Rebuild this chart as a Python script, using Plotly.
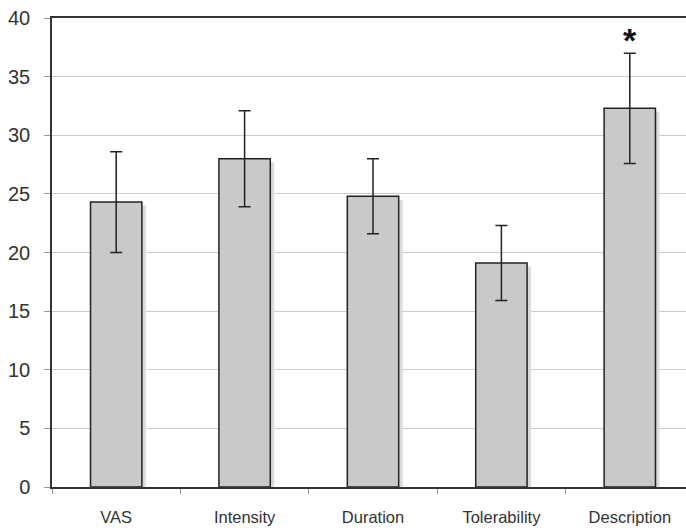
import plotly.graph_objects as go

categories = ["VAS", "Intensity", "Duration", "Tolerability", "Description"]
means = [24.3, 28.0, 24.8, 19.1, 32.3]
upper = [28.6, 32.1, 28.0, 22.3, 37.0]
lower = [20.0, 23.9, 21.6, 15.9, 27.6]
y_ticks = [0, 5, 10, 15, 20, 25, 30, 35, 40]

err_plus = [u - m for u, m in zip(upper, means)]
err_minus = [m - l for m, l in zip(means, lower)]

bar_w = 0.40
fig = go.Figure()

# soft drop shadow to the right of each bar
fig.add_trace(go.Bar(
    x=categories, y=[m - 0.3 for m in means],
    width=bar_w, offset=-bar_w / 2 + 0.03,
    marker=dict(color="#dadada", line=dict(width=0)),
    hoverinfo="skip", showlegend=False,
))

fig.add_trace(go.Bar(
    x=categories, y=means,
    width=bar_w, offset=-bar_w / 2,
    marker=dict(color="#c9c9c9", line=dict(color="#222222", width=1.5)),
    error_y=dict(type="data", symmetric=False, array=err_plus, arrayminus=err_minus,
                 color="#222222", thickness=1.5, width=6),
    showlegend=False,
))

fig.add_annotation(
    x="Description", y=upper[-1], text="<b>*</b>", showarrow=False,
    yanchor="bottom", yshift=-8, font=dict(size=34, color="#111111", family="Liberation Sans, Arial"),
)

fig.update_layout(
    width=686, height=531,
    margin=dict(l=52, r=0, t=18, b=44),
    paper_bgcolor="white", plot_bgcolor="white",
    barmode="overlay",
    font=dict(family="Liberation Sans, Arial, sans-serif", color="#333333"),
)

fig.update_xaxes(
    range=[-0.5, 4.4377],
    showline=True, linecolor="#333333", linewidth=1.5, mirror=True,
    ticks="outside", tickson="boundaries", ticklen=5, tickcolor="#999999",
    tickfont=dict(size=16.5, color="#333333"),
    ticklabelstandoff=14,
    showgrid=False,
)

fig.update_yaxes(
    range=[0, 40], tickvals=y_ticks,
    showline=True, linecolor="#333333", linewidth=1.5,
    ticks="outside", ticklen=6, tickcolor="#999999",
    tickfont=dict(size=20, color="#333333"),
    ticklabelstandoff=10,
    showgrid=True, gridcolor="#cccccc", gridwidth=1,
    zeroline=False,
)

fig.write_html("out.html")
